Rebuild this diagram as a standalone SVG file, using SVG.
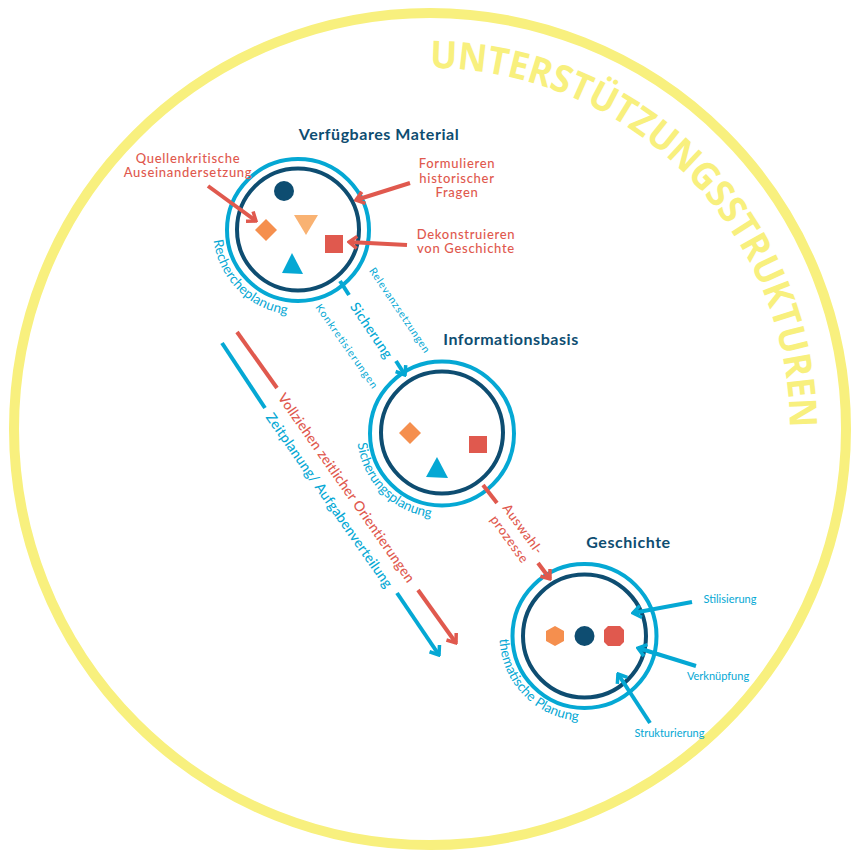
<svg xmlns="http://www.w3.org/2000/svg" width="854" height="857" viewBox="0 0 854 857">
<defs>
<style>
.title{font-family:Lato,sans-serif;font-weight:700;font-size:16px;letter-spacing:0.55px;fill:#0E4D71;text-anchor:middle}
.red{fill:#E0594E}
.cy{fill:#05A8D4}
.lbl{font-family:Lato,sans-serif;font-size:13px;text-anchor:middle;font-weight:500;letter-spacing:0.7px}
.sm{font-family:Lato,sans-serif;font-size:11px;text-anchor:middle}
.arc{font-family:Lato,sans-serif;font-size:13.5px}
.ring{fill:none;stroke:#05A8D4;stroke-width:4}
.inner{fill:none;stroke:#0E4D71;stroke-width:4}
.lr{stroke:#E0594E;stroke-width:4;fill:none}
.lc{stroke:#05A8D4;stroke-width:4;fill:none}
</style>
<marker id="ar" viewBox="-10 -8 12 16" markerWidth="12" markerHeight="16" refX="0" refY="0" orient="auto" markerUnits="userSpaceOnUse">
<path d="M-8,-6 L0,0 L-8,6" fill="none" stroke="#E0594E" stroke-width="3.5"/>
</marker>
<marker id="ac" viewBox="-10 -8 12 16" markerWidth="12" markerHeight="16" refX="0" refY="0" orient="auto" markerUnits="userSpaceOnUse">
<path d="M-8,-6 L0,0 L-8,6" fill="none" stroke="#05A8D4" stroke-width="3.5"/>
</marker>
<path id="arcY" d="M430,68 A360,360 0 0 1 790,428"/>
<path id="arc1" d="M213.6,240.4 A85,85 0 0 0 298,315"/>
<path id="arc2" d="M357.6,443.4 A85,85 0 0 0 442,518"/>
<path id="arc3" d="M499.6,639 A85,85 0 0 0 591.9,720.7"/>
</defs>
<rect width="854" height="857" fill="#ffffff"/>

<g id="frame">
<circle cx="430" cy="429" r="416" fill="none" stroke="#F8F07E" stroke-width="10"/>
<text font-family="'Open Sans',sans-serif" font-weight="700" font-size="38" fill="#F8F07E"><textPath href="#arcY" textLength="565" lengthAdjust="spacingAndGlyphs">UNTERSTÜTZUNGSSTRUKTUREN</textPath></text>
</g>

<g id="node-material">
<text class="title" x="379" y="140">Verfügbares Material</text>
<circle class="ring" cx="298" cy="230" r="71"/>
<circle class="inner" cx="298" cy="229.5" r="61"/>
<circle cx="284" cy="191" r="10" fill="#0E4D71"/>
<path d="M266,219 L277,230 L266,241 L255,230 Z" fill="#F58F4E"/>
<path d="M294,215 L318,215 L306,235 Z" fill="#F9B272"/>
<rect x="325" y="235" width="18" height="18" fill="#E0594E"/>
<path d="M292,253 L303,274 L282,273 Z" fill="#05A8D4"/>
<text class="arc cy"><textPath href="#arc1" textLength="112">Rechercheplanung</textPath></text>
</g>

<g id="node-info">
<text class="title" x="511" y="345">Informationsbasis</text>
<circle class="ring" cx="442" cy="433.5" r="72"/>
<circle class="inner" cx="442" cy="432.5" r="61"/>
<path d="M410,422 L421,433 L410,444 L399,433 Z" fill="#F58F4E"/>
<rect x="469" y="436" width="18" height="17" fill="#E0594E"/>
<path d="M437,457 L448,478 L426,477 Z" fill="#05A8D4"/>
<text class="arc cy"><textPath href="#arc2" textLength="112">Sicherungsplanung</textPath></text>
</g>

<g id="node-geschichte">
<text class="title" x="628.5" y="548">Geschichte</text>
<circle class="ring" cx="584.5" cy="636" r="72"/>
<circle class="inner" cx="584.5" cy="636" r="61.5"/>
<path d="M555,626 L564,631 L564,641 L555,646 L546,641 L546,631 Z" fill="#F58F4E"/>
<circle cx="584.5" cy="636" r="10" fill="#0E4D71"/>
<path d="M608,626 L620,626 L624,630 L624,642 L620,646 L608,646 L604,642 L604,630 Z" fill="#E0594E"/>
<text class="arc cy"><textPath href="#arc3" textLength="124">thematische Planung</textPath></text>
</g>

<g id="labels">
<text class="lbl red" x="188" y="163">Quellenkritische</text>
<text class="lbl red" x="188" y="177">Auseinandersetzung</text>
<text class="lbl red" x="457" y="168">Formulieren</text>
<text class="lbl red" x="457" y="183">historischer</text>
<text class="lbl red" x="457" y="197">Fragen</text>
<text class="lbl red" x="466" y="239">Dekonstruieren</text>
<text class="lbl red" x="466" y="253">von Geschichte</text>
<text class="sm cy" x="730" y="603">Stilisierung</text>
<text class="sm cy" x="718" y="680">Verknüpfung</text>
<text class="sm cy" x="669.5" y="737">Strukturierung</text>
</g>

<g id="connectors">
<line class="lr" x1="208" y1="186" x2="256" y2="221" marker-end="url(#ar)"/>
<line class="lr" x1="410" y1="183" x2="356" y2="200" marker-end="url(#ar)"/>
<line class="lr" x1="407" y1="245" x2="349" y2="242" marker-end="url(#ar)"/>

<line class="lc" x1="340" y1="281" x2="349" y2="295"/>
<line class="lc" x1="396" y1="361" x2="405" y2="375" marker-end="url(#ac)"/>
<text class="sm cy" style="font-size:14px;font-weight:500" dominant-baseline="central" textLength="64" transform="translate(372,330) rotate(56)">Sicherung</text>
<text class="sm cy" style="font-size:10.5px" dominant-baseline="central" textLength="100" transform="translate(400,310) rotate(56)">Relevanzsetzungen</text>
<text class="sm cy" style="font-size:10.5px" dominant-baseline="central" textLength="100" transform="translate(347,346) rotate(55)">Konkretisierungen</text>

<line class="lr" x1="483" y1="485" x2="497" y2="503"/>
<line class="lr" x1="538" y1="563" x2="550" y2="579" marker-end="url(#ar)"/>
<text class="lbl red" dominant-baseline="central" transform="translate(523.5,529) rotate(54)">Auswahl-</text>
<text class="lbl red" dominant-baseline="central" transform="translate(510,539) rotate(54)">prozesse</text>

<line class="lr" x1="237" y1="332" x2="277" y2="388"/>
<line class="lr" x1="418" y1="590" x2="456" y2="643" marker-end="url(#ar)"/>
<text class="lbl red" style="font-size:14px;letter-spacing:0.2px" dominant-baseline="central" transform="translate(347,487.5) rotate(55)">Vollziehen zeitlicher Orientierungen</text>
<line class="lc" x1="222" y1="343" x2="265" y2="408"/>
<line class="lc" x1="397" y1="593" x2="439" y2="655" marker-end="url(#ac)"/>
<text class="lbl cy" style="font-size:14px;letter-spacing:0.2px" dominant-baseline="central" transform="translate(330,500) rotate(55)">Zeitplanung/ Aufgabenverteilung</text>

<line class="lc" x1="692" y1="602" x2="633" y2="613" marker-end="url(#ac)"/>
<line class="lc" x1="696" y1="666" x2="638" y2="648" marker-end="url(#ac)"/>
<line class="lc" x1="650" y1="723" x2="618" y2="674" marker-end="url(#ac)"/>
</g>
</svg>
